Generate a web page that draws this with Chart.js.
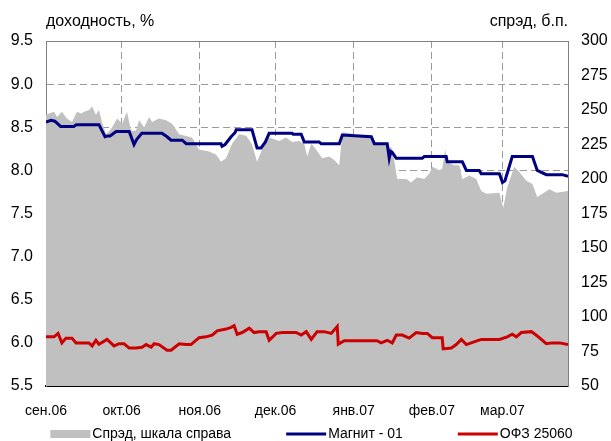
<!DOCTYPE html>
<html><head><meta charset="utf-8">
<script src="https://cdn.jsdelivr.net/npm/chart.js@4.4.1/dist/chart.umd.min.js"></script>
<style>html,body{margin:0;padding:0;background:#fff;}</style>
</head><body>
<canvas id="c" width="611" height="441"></canvas>
<script>
// ---- data ----
const monthLabels = ['сен.06','окт.06','ноя.06','дек.06','янв.07','фев.07','мар.07'];
const monthStartDays = [0,30,61,91,122,153,181];   // days since 1 Sep 2006
const seriesNames = ['Спрэд, шкала справа','Магнит - 01','ОФЗ 25060'];
const axisTitles = ['доходность, %','спрэд, б.п.'];

const spreadDays = [0,1.2,3.2,4.4,6.3,8.3,10.3,12.3,13.9,15.1,17.1,18.3,19.8,21,22.2,23.8,25.8,28.2,30.2,32.1,33.7,35.7,36.9,38.9,40.9,42.1,44.8,47.6,50,52.8,57.9,60.7,64.7,67.5,69.4,71.4,73.8,76.6,79.4,81.7,83.7,85.7,88.5,90.5,92.5,95.2,97.6,100.4,102.4,103.6,105.2,107.1,109.5,112.3,114.3,116.3,117.5,127,129.4,131,134.9,137.3,139.3,142.9,144.8,147.2,150,152,153.2,156,157.1,158.3,159.1,161.9,163.9,165.1,167.9,170.6,172.6,174.6,179.8,181.3,182.9,185.7,187.7,190.5,192.9,194.8,196.8,199.6,202.4,207];
const spreadBp = [246.3,247.5,248.8,245,248.8,243.8,241.3,248.8,247.5,248.8,250,252.5,246.3,250,241.3,232.5,236.3,243.8,240,248.8,235,235,242.5,237.5,245,241.3,243.8,242.5,240,232.5,230,221.3,220,217.5,212.5,215,225.6,232.5,231.3,225,212.5,221.3,230,228.8,227.5,230,226.9,227.5,225.6,216.3,225.6,221.3,215,216.3,213.8,210,233.8,231.3,230,225.6,225.6,222,200,200,197.5,201.3,200,203.8,208.8,206.3,207.5,221.3,212.5,210,210,200,202.5,200,191.3,189.4,190,178.8,193.8,208.8,205,198.8,196.3,186.9,189.4,192.5,190,191.3];

const magnitDays = [0,2,3.5,5.8,11,12,21,23.4,24.5,25.4,27.8,33,34.9,36,38,46,48,49.6,54,55.6,69.4,69.8,71,73.4,75,75.4,81.7,83.7,85.3,87,88.5,97.6,98,101.2,102.4,108.3,109.1,116.3,117.5,129,130.2,135.3,136.1,136.7,137.3,138.9,149.2,150,158.7,159.1,165.1,166.7,171.8,172.6,179.8,181,182,184.9,192.9,194.8,198.4,204.8,207];
const magnitYield = [8.56,8.58,8.57,8.51,8.51,8.53,8.53,8.39,8.40,8.40,8.45,8.45,8.30,8.36,8.43,8.43,8.39,8.35,8.35,8.31,8.31,8.28,8.30,8.39,8.44,8.47,8.47,8.26,8.26,8.33,8.43,8.43,8.42,8.42,8.33,8.33,8.31,8.31,8.41,8.39,8.31,8.31,8.14,8.22,8.21,8.14,8.14,8.16,8.16,8.10,8.10,8.00,8.00,7.96,7.96,7.86,7.88,8.16,8.16,8.00,7.95,7.95,7.93];

const ofzDays = [0,3.2,4.8,6.3,7.9,10.3,11.9,13.1,17,18.3,19.8,21,24.2,27,29,31,33,35.7,38.1,39.7,41.7,42.9,44.8,48,49.6,52.8,55.6,57.5,60.7,63.5,65.9,67.9,71.4,73.4,74.6,75.8,77.8,80.6,82.5,84.5,87.3,88.5,91.3,93.7,99.2,101.2,103.2,105.2,107.5,110.3,113.1,115.5,115.9,118.3,131.3,132.9,135.3,137.3,138.9,141.3,144,146.8,149.2,151.2,153.2,157.1,157.5,160.7,162.7,164.7,166.7,170.6,172.6,179.8,182.9,184.9,186.5,188.5,192.5,194.8,198.4,200.8,203.6,207];
const ofzYield = [6.07,6.07,6.11,6.00,6.055,6.055,6.00,6.00,6.00,5.965,6.03,5.985,6.04,5.965,5.99,5.99,5.94,5.94,5.95,5.98,5.95,5.99,5.98,5.915,5.915,5.99,5.98,5.98,6.06,6.07,6.09,6.14,6.16,6.18,6.20,6.10,6.12,6.17,6.12,6.13,6.13,6.03,6.11,6.12,6.12,6.09,6.13,6.04,6.13,6.13,6.11,6.19,5.985,6.025,6.025,6.00,6.03,6.00,6.09,6.09,6.055,6.12,6.11,6.11,6.06,6.06,5.93,5.94,5.98,6.04,5.98,6.02,6.04,6.04,6.07,6.10,6.07,6.12,6.13,6.08,5.99,6.00,6.00,5.98];

const toXY = (xs, ys) => xs.map((x, i) => ({x, y: ys[i]}));
const FONT = '"Liberation Sans", Arial, sans-serif';

const overlay = {
  id: 'overlay',
  afterDraw(chart) {
    const ctx = chart.ctx, a = chart.chartArea;
    ctx.save();
    ctx.strokeStyle = '#808080'; ctx.lineWidth = 1;
    ctx.beginPath(); ctx.moveTo(a.left, a.top + 0.5); ctx.lineTo(a.right, a.top + 0.5); ctx.stroke();
    ctx.fillStyle = '#000';
    ctx.font = '16px ' + FONT; ctx.textBaseline = 'middle';
    ctx.textAlign = 'left'; ctx.fillText(axisTitles[0], a.left, 22);
    ctx.textAlign = 'right'; ctx.fillText(axisTitles[1], a.right, 22);
    // legend
    ctx.font = '14px ' + FONT; ctx.textAlign = 'left';
    const ds = chart.data.datasets;
    const sw = 40, gap = 2, spacing = 55, ly = 434;
    const widths = ds.map(d => sw + gap + ctx.measureText(d.label).width);
    const total = widths.reduce((s, w) => s + w, 0) + spacing * (ds.length - 1);
    let x = chart.width / 2 + 6 - total / 2;
    ds.forEach((d, i) => {
      if (d.fill) {
        ctx.fillStyle = d.backgroundColor; ctx.fillRect(x, ly - 4, sw, 8);
      } else {
        ctx.strokeStyle = d.borderColor; ctx.lineWidth = 3;
        ctx.beginPath(); ctx.moveTo(x, ly); ctx.lineTo(x + sw, ly); ctx.stroke();
      }
      ctx.fillStyle = '#000';
      ctx.fillText(d.label, x + sw + gap, ly);
      x += widths[i] + spacing;
    });
    ctx.restore();
  }
};

new Chart(document.getElementById('c'), {
  type: 'line',
  data: {
    datasets: [
      { label: seriesNames[0], data: toXY(spreadDays, spreadBp), yAxisID: 'y2', fill: 'start',
        backgroundColor: '#c0c0c0', borderWidth: 0, pointRadius: 0, order: 2 },
      { label: seriesNames[1], data: toXY(magnitDays, magnitYield), yAxisID: 'y', fill: false,
        borderColor: '#000080', borderWidth: 3, pointRadius: 0, order: 1 },
      { label: seriesNames[2], data: toXY(ofzDays, ofzYield), yAxisID: 'y', fill: false,
        borderColor: '#cc0000', borderWidth: 3, pointRadius: 0, order: 1 }
    ]
  },
  options: {
    responsive: false, animation: false, devicePixelRatio: 1,
    layout: { padding: { top: 41, left: 0, right: 0, bottom: 0 } },
    plugins: { legend: { display: false }, tooltip: { enabled: false } },
    elements: { line: { tension: 0 } },
    scales: {
      x: {
        type: 'linear', min: 0, max: 207,
        afterBuildTicks: s => { s.ticks = monthStartDays.map(v => ({ value: v })); },
        afterFit: s => { s.height = 55; },
        ticks: { callback: (v) => monthLabels[monthStartDays.indexOf(v)], color: '#000',
                 font: { family: FONT, size: 14 }, padding: 17, maxRotation: 0, autoSkip: false },
        grid: { color: '#9a9a9a', drawTicks: false },
        border: { color: '#000', width: 2, dash: [7, 4] }
      },
      y: {
        position: 'left', min: 5.5, max: 9.5,
        afterFit: s => { s.width = 46; },
        ticks: { stepSize: 0.5, callback: v => v.toFixed(1), color: '#000',
                 font: { family: FONT, size: 16 }, padding: 13 },
        grid: { color: '#9a9a9a', drawTicks: false },
        border: { color: '#808080', width: 1, dash: [7, 4] }
      },
      y2: {
        position: 'right', min: 50, max: 300,
        afterFit: s => { s.width = 43; },
        ticks: { stepSize: 25, color: '#000', font: { family: FONT, size: 16 }, padding: 13 },
        grid: { display: false, drawTicks: false },
        border: { color: '#808080', width: 1 }
      }
    }
  },
  plugins: [overlay]
});
</script>
</body></html>
